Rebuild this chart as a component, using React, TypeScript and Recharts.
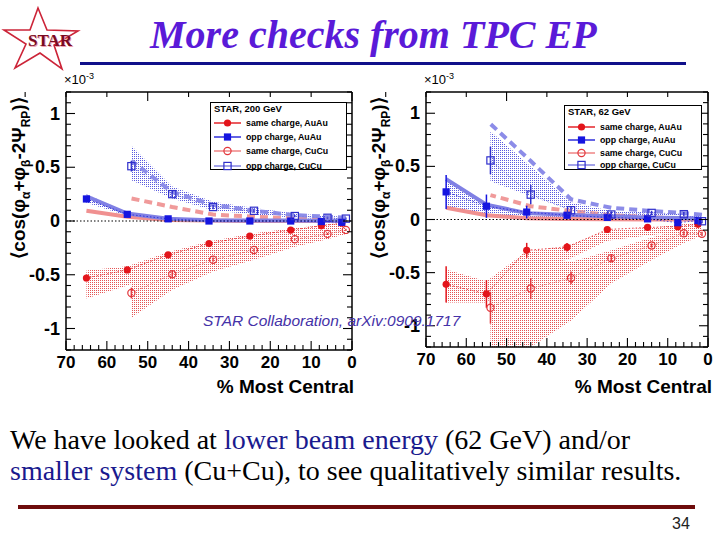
import React from "react";
import {
  ComposedChart,
  XAxis,
  YAxis,
  Area,
  Line,
  Scatter,
  ErrorBar,
  ReferenceLine,
  Legend,
} from "recharts";

const SANS = '"Liberation Sans", Arial, Helvetica, sans-serif';
const SERIF = '"Liberation Serif", "Times New Roman", serif';

// centrality bin centres (% most central); CuCu points sit slightly offset
const AU_X = [65, 55, 45, 35, 25, 15, 7.5, 2.5];
const CU_X = [54, 44, 34, 24, 14, 6, 1.5];

const X_LABELS = [70, 60, 50, 40, 30, 20, 10, 0];
const Y_LABELS = [-1, -0.5, 0, 0.5, 1];
const X_TICKS = Array.from({ length: 36 }, (_, i) => i * 2);
const Y_TICKS = Array.from({ length: 25 }, (_, i) => (i - 12) / 10);

const LEGEND_LABELS = ["same charge, AuAu", "opp charge, AuAu", "same charge, CuCu", "opp charge, CuCu"];

// ---- 200 GeV (left) ----
const L_SAME_AU = [-0.53, -0.455, -0.315, -0.21, -0.14, -0.085, -0.045, -0.02];
const L_SAME_AU_ERR = [0.03, 0.02, 0.015, 0.01, 0.01, 0.01, 0.01, 0.01];
const L_OPP_AU = [0.205, 0.062, 0.02, 0.0, 0.0, 0.0, -0.005, -0.012];
const L_OPP_AU_ERR = [0.03, 0.015, 0.01, 0.01, 0.01, 0.01, 0.01, 0.01];
const L_SAME_CU = [-0.67, -0.495, -0.36, -0.27, -0.17, -0.12, -0.083];
const L_SAME_CU_ERR = [0.05, 0.03, 0.02, 0.015, 0.01, 0.01, 0.01];
const L_OPP_CU = [0.51, 0.25, 0.13, 0.095, 0.046, 0.03, 0.022];
const L_OPP_CU_ERR = [0.05, 0.03, 0.02, 0.015, 0.01, 0.01, 0.01];

const L_SAME_AU_LO = [-0.72, -0.6, -0.45, -0.33, -0.23, -0.15, -0.1, -0.06];
const L_SAME_AU_HI = [-0.46, -0.42, -0.29, -0.19, -0.12, -0.07, -0.04, -0.01];
const L_OPP_AU_LO = [0.17, 0.05, 0.012, 0.0, 0.0, 0.0, 0.0, 0.0];
const L_OPP_AU_HI = [0.25, 0.08, 0.03, 0.012, 0.008, 0.006, 0.005, 0.005];
const L_SAME_CU_LO = [-0.9, -0.64, -0.47, -0.36, -0.24, -0.17, -0.12];
const L_SAME_CU_HI = [-0.44, -0.31, -0.22, -0.16, -0.1, -0.06, -0.03];
const L_OPP_CU_LO = [0.38, 0.21, 0.1, 0.06, 0.03, 0.015, 0.01];
const L_OPP_CU_HI = [0.7, 0.32, 0.18, 0.12, 0.07, 0.05, 0.04];

const L_SAME_AU_TH = [0.095, 0.04, 0.01, 0.005, 0.0, 0.0, 0.0, 0.0];
const L_OPP_AU_TH = [0.23, 0.07, 0.02, 0.008, 0.005, 0.004, 0.003, 0.003];
const L_SAME_CU_TH = [0.21, 0.13, 0.06, 0.04, 0.025, 0.015, 0.01];
const L_OPP_CU_TH = [0.56, 0.27, 0.15, 0.095, 0.055, 0.04, 0.03];

// ---- 62 GeV (right) ----
const R_SAME_AU = [-0.61, -0.7, -0.29, -0.26, -0.094, -0.075, -0.068, -0.045];
const R_SAME_AU_ERR = [0.17, 0.13, 0.07, 0.04, 0.015, 0.015, 0.015, 0.01];
const R_OPP_AU = [0.26, 0.125, 0.07, 0.04, 0.02, 0.006, -0.03, -0.01];
const R_OPP_AU_ERR = [0.16, 0.11, 0.06, 0.03, 0.015, 0.015, 0.015, 0.015];
const R_SAME_CU = [-0.83, -0.65, -0.55, -0.365, -0.245, -0.13, -0.135];
const R_SAME_CU_ERR = [0.15, 0.1, 0.06, 0.03, 0.02, 0.02, 0.02];
const R_OPP_CU = [0.556, 0.234, 0.087, 0.047, 0.062, 0.05, -0.016];
const R_OPP_CU_ERR = [0.13, 0.09, 0.04, 0.03, 0.02, 0.02, 0.02];

const R_SAME_AU_LO = [-0.78, -0.78, -0.45, -0.38, -0.2, -0.15, -0.12, -0.08];
const R_SAME_AU_HI = [-0.47, -0.58, -0.3, -0.25, -0.1, -0.08, -0.05, -0.03];
const R_OPP_AU_LO = [0.1, 0.05, 0.02, 0.01, 0.005, 0.0, 0.0, 0.0];
const R_OPP_AU_HI = [0.38, 0.14, 0.06, 0.045, 0.03, 0.02, 0.015, 0.01];
const R_SAME_CU_LO = [-1.25, -1.2, -0.95, -0.6, -0.38, -0.22, -0.15];
const R_SAME_CU_HI = [-0.58, -0.37, -0.4, -0.29, -0.17, -0.08, -0.05];
const R_OPP_CU_LO = [0.36, 0.22, 0.09, 0.02, 0.02, 0.0, -0.02];
const R_OPP_CU_HI = [0.83, 0.5, 0.16, 0.08, 0.07, 0.05, 0.03];

const R_SAME_AU_TH = [0.11, 0.04, 0.012, 0.005, 0.002, 0.0, 0.0, 0.0];
const R_OPP_AU_TH = [0.38, 0.14, 0.06, 0.045, 0.03, 0.02, 0.015, 0.01];
const R_SAME_CU_TH = [0.23, 0.125, 0.08, 0.04, 0.02, 0.01, 0.0];
const R_OPP_CU_TH = [0.9, 0.55, 0.19, 0.11, 0.08, 0.06, 0.045];

type Panel = {
  id: string;
  title: string;
  pts: { x: number; y: number; err: number }[][];
  rows: any[];
};

const pts = (xs: number[], ys: number[], errs: number[]) =>
  xs.map((x, i) => ({ x, y: ys[i], err: errs[i] }));

function buildRows(au: number[][], cu: number[][]) {
  // au/cu = [sameLo, sameHi, oppLo, oppHi, sameTh, oppTh]
  const rows: any[] = [];
  AU_X.forEach((x, i) =>
    rows.push({
      x,
      auSameBand: [au[0][i], au[1][i]],
      auOppBand: [au[2][i], au[3][i]],
      auSameTh: au[4][i],
      auOppTh: au[5][i],
    })
  );
  CU_X.forEach((x, i) =>
    rows.push({
      x,
      cuSameBand: [cu[0][i], cu[1][i]],
      cuOppBand: [cu[2][i], cu[3][i]],
      cuSameTh: cu[4][i],
      cuOppTh: cu[5][i],
    })
  );
  return rows.sort((a, b) => a.x - b.x);
}

const LEFT: Panel = {
  id: "p200",
  title: "STAR,  200 GeV",
  pts: [
    pts(AU_X, L_SAME_AU, L_SAME_AU_ERR),
    pts(AU_X, L_OPP_AU, L_OPP_AU_ERR),
    pts(CU_X, L_SAME_CU, L_SAME_CU_ERR),
    pts(CU_X, L_OPP_CU, L_OPP_CU_ERR),
  ],
  rows: buildRows(
    [L_SAME_AU_LO, L_SAME_AU_HI, L_OPP_AU_LO, L_OPP_AU_HI, L_SAME_AU_TH, L_OPP_AU_TH],
    [L_SAME_CU_LO, L_SAME_CU_HI, L_OPP_CU_LO, L_OPP_CU_HI, L_SAME_CU_TH, L_OPP_CU_TH]
  ),
};

const RIGHT: Panel = {
  id: "p62",
  title: "STAR,  62 GeV",
  pts: [
    pts(AU_X, R_SAME_AU, R_SAME_AU_ERR),
    pts(AU_X, R_OPP_AU, R_OPP_AU_ERR),
    pts(CU_X, R_SAME_CU, R_SAME_CU_ERR),
    pts(CU_X, R_OPP_CU, R_OPP_CU_ERR),
  ],
  rows: buildRows(
    [R_SAME_AU_LO, R_SAME_AU_HI, R_OPP_AU_LO, R_OPP_AU_HI, R_SAME_AU_TH, R_OPP_AU_TH],
    [R_SAME_CU_LO, R_SAME_CU_HI, R_OPP_CU_LO, R_OPP_CU_HI, R_SAME_CU_TH, R_OPP_CU_TH]
  ),
};

const SERIES = [
  { color: "#e3151b", line: "#e3151b", shape: "circle", filled: true },
  { color: "#1515e0", line: "#2020d8", shape: "square", filled: true },
  { color: "#e2373c", line: "#ee7c7c", shape: "circle", filled: false },
  { color: "#2f2fcc", line: "#7c7ce0", shape: "square", filled: false },
];

function marker(shape: string, filled: boolean, color: string, cx: number, cy: number) {
  const fill = filled ? color : "none";
  const sw = filled ? 0 : 1.2;
  if (shape === "circle") return <circle cx={cx} cy={cy} r={3.6} fill={fill} stroke={color} strokeWidth={sw} />;
  return <rect x={cx - 3.6} y={cy - 3.6} width={7.2} height={7.2} fill={fill} stroke={color} strokeWidth={sw} />;
}

const FRAME = { stroke: "#000", strokeWidth: 1.5 };
const isMajorY = (v: number) => Y_LABELS.some((m) => Math.abs(m - v) < 1e-6);
const tickText = { fontFamily: SANS, fontWeight: "bold" as const, fontSize: 17, fill: "#000" };

function BottomTick({ x, y, payload }: any) {
  const major = X_LABELS.includes(payload.value);
  return (
    <g>
      <line x1={x} x2={x} y1={y} y2={y - (major ? 9 : 5)} stroke="#000" strokeWidth={1.1} />
      {major && (
        <text x={x} y={y + 18} textAnchor="middle" {...tickText}>
          {payload.value}
        </text>
      )}
    </g>
  );
}

function TopTick({ x, y, payload }: any) {
  const major = X_LABELS.includes(payload.value);
  return <line x1={x} x2={x} y1={y} y2={y + (major ? 9 : 5)} stroke="#000" strokeWidth={1.1} />;
}

function LeftTick({ x, y, payload }: any) {
  const major = isMajorY(payload.value);
  return (
    <g>
      <line x1={x} x2={x + (major ? 9 : 5)} y1={y} y2={y} stroke="#000" strokeWidth={1.1} />
      {major && (
        <text x={x - 6} y={y + 6} textAnchor="end" {...tickText} fontSize={18}>
          {String(payload.value)}
        </text>
      )}
    </g>
  );
}

function RightTick({ x, y, payload }: any) {
  const major = isMajorY(payload.value);
  return <line x1={x} x2={x - (major ? 9 : 5)} y1={y} y2={y} stroke="#000" strokeWidth={1.1} />;
}

function LegendBox({ title, w, h, rowTop, rowGap }: { title: string; w: number; h: number; rowTop: number; rowGap: number }) {
  return (
    <div
      style={{
        position: "relative",
        width: w,
        height: h,
        boxSizing: "border-box",
        border: "1.5px solid #000",
        background: "#fff",
        fontFamily: SANS,
        fontWeight: "bold",
        color: "#000",
      }}
    >
      <div style={{ position: "absolute", left: 3, top: 0, fontSize: 9.5, lineHeight: "11px", whiteSpace: "nowrap" }}>{title}</div>
      {SERIES.map((s, i) => (
        <div
          key={i}
          style={{ position: "absolute", left: 0, top: rowTop + i * rowGap - 6, height: 12, display: "flex", alignItems: "center", whiteSpace: "nowrap" }}
        >
          <svg width={32} height={12} style={{ display: "block" }}>
            <line x1={3} x2={30} y1={6} y2={6} stroke={s.line} strokeWidth={1.4} />
            {marker(s.shape, s.filled, s.color, 16.5, 6)}
          </svg>
          <span style={{ fontSize: 8.8, marginLeft: 3 }}>{LEGEND_LABELS[i]}</span>
        </div>
      ))}
    </div>
  );
}

function Chart({ p, margin, box }: { p: Panel; margin: any; box: any }) {
  const ax = { xAxisId: "b", yAxisId: "l" };
  const red = `${p.id}-red`;
  const blue = `${p.id}-blue`;
  const noTick = { tickSize: 0, tickMargin: 0, tickLine: false, interval: 0 as const, axisLine: FRAME };
  return (
    <ComposedChart width={360} height={340} margin={margin} data={p.rows}>
      <defs>
        <pattern id={red} width={2} height={2} patternUnits="userSpaceOnUse">
          <rect width={1} height={1} fill="#e55454" />
        </pattern>
        <pattern id={blue} width={2} height={2} patternUnits="userSpaceOnUse">
          <rect width={1} height={1} fill="#5a5ade" />
        </pattern>
      </defs>
      <XAxis xAxisId="b" dataKey="x" type="number" domain={[0, 70]} reversed allowDataOverflow ticks={X_TICKS} height={1} {...noTick} tick={(t: any) => <BottomTick {...t} />} />
      <XAxis xAxisId="t" orientation="top" type="number" domain={[0, 70]} reversed allowDataOverflow ticks={X_TICKS} height={1} {...noTick} tick={(t: any) => <TopTick {...t} />} />
      <YAxis yAxisId="l" dataKey="y" type="number" domain={[-1.2, 1.2]} allowDataOverflow ticks={Y_TICKS} width={1} {...noTick} tick={(t: any) => <LeftTick {...t} />} />
      <YAxis yAxisId="r" orientation="right" type="number" domain={[-1.2, 1.2]} allowDataOverflow ticks={Y_TICKS} width={1} {...noTick} tick={(t: any) => <RightTick {...t} />} />

      <Area {...ax} dataKey="cuSameBand" stroke="none" fill={`url(#${red})`} fillOpacity={1} connectNulls dot={false} activeDot={false} isAnimationActive={false} />
      <Area {...ax} dataKey="auSameBand" stroke="none" fill={`url(#${red})`} fillOpacity={1} connectNulls dot={false} activeDot={false} isAnimationActive={false} />
      <Area {...ax} dataKey="cuOppBand" stroke="none" fill={`url(#${blue})`} fillOpacity={1} connectNulls dot={false} activeDot={false} isAnimationActive={false} />
      <Area {...ax} dataKey="auOppBand" stroke="none" fill={`url(#${blue})`} fillOpacity={1} connectNulls dot={false} activeDot={false} isAnimationActive={false} />

      <Line {...ax} dataKey="cuSameTh" stroke="#f09a9a" strokeWidth={4} strokeDasharray="8 5" connectNulls dot={false} activeDot={false} isAnimationActive={false} />
      <Line {...ax} dataKey="cuOppTh" stroke="#8c8ce8" strokeWidth={4} strokeDasharray="8 5" connectNulls dot={false} activeDot={false} isAnimationActive={false} />
      <Line {...ax} dataKey="auSameTh" stroke="#f09090" strokeWidth={4} connectNulls dot={false} activeDot={false} isAnimationActive={false} />
      <Line {...ax} dataKey="auOppTh" stroke="#8080e4" strokeWidth={4} connectNulls dot={false} activeDot={false} isAnimationActive={false} />

      <ReferenceLine {...ax} y={0} stroke="#000" strokeWidth={1.2} strokeDasharray="1.5 2" />

      {SERIES.map((s, i) => (
        <Scatter
          key={i}
          {...ax}
          data={p.pts[i]}
          dataKey="y"
          line={{ stroke: s.line, strokeWidth: 0.8, strokeDasharray: "1.5 2" }}
          lineType="joint"
          isAnimationActive={false}
          shape={(d: any) => marker(s.shape, s.filled, s.color, d.cx, d.cy)}
        >
          <ErrorBar dataKey="err" direction="y" width={0} stroke={s.color} strokeWidth={1.5} isAnimationActive={false} />
        </Scatter>
      ))}

      <Legend
        layout="vertical"
        align="center"
        verticalAlign="middle"
        wrapperStyle={{ left: box.left, top: box.top, width: box.w, height: box.h }}
        content={() => <LegendBox title={p.title} w={box.w} h={box.h} rowTop={box.rowTop} rowGap={box.rowGap} />}
      />
    </ComposedChart>
  );
}

function YTitle({ left }: { left: number }) {
  const sub = { fontSize: 12, dy: 5 };
  return (
    <svg width={40} height={220} style={{ position: "absolute", left, top: 70 }}>
      <text transform="translate(25,108) rotate(-90)" textAnchor="middle" fontFamily={SANS} fontWeight="bold" fontSize={19} fill="#000">
        ⟨cos(φ<tspan {...sub}>α</tspan>
        <tspan dy={-5}>+φ</tspan>
        <tspan {...sub}>β</tspan>
        <tspan dy={-5}>-2Ψ</tspan>
        <tspan {...sub}>RP</tspan>
        <tspan dy={-5}>)⟩</tspan>
      </text>
    </svg>
  );
}

function Exponent({ left }: { left: number }) {
  return (
    <div style={{ position: "absolute", left, top: 73, fontFamily: SANS, fontSize: 13, lineHeight: "14px", whiteSpace: "nowrap" }}>
      ×10<span style={{ fontSize: 9, position: "relative", top: -5 }}>-3</span>
    </div>
  );
}

function XTitle({ right }: { right: number }) {
  return (
    <div style={{ position: "absolute", right, top: 376, fontFamily: SANS, fontWeight: "bold", fontSize: 19, lineHeight: "22px", whiteSpace: "nowrap" }}>
      % Most Central
    </div>
  );
}

function StarLogo() {
  return (
    <svg width={90} height={75} style={{ position: "absolute", left: 0, top: 0 }}>
      <polygon points="38,8 47,30 78,31 54,45 62,69 40,53 15,68 26,44 4,30 30,30" fill="none" stroke="#cc2438" strokeWidth={1.6} />
      <text x={29} y={47} fontFamily={SERIF} fontWeight="bold" fontSize={17} fill="#f0a0b0">STAR</text>
      <text x={28} y={46} fontFamily={SERIF} fontWeight="bold" fontSize={17} fill="#7a0a22">STAR</text>
    </svg>
  );
}

export default function App() {
  return (
    <div style={{ position: "absolute", left: 0, top: 0, width: 720, height: 540, background: "#fff", overflow: "hidden", fontFamily: SERIF }}>
      <StarLogo />
      <div style={{ position: "absolute", left: 150, top: 15, fontSize: 40, lineHeight: 1, fontWeight: "bold", fontStyle: "italic", color: "#5a1ad8", whiteSpace: "nowrap" }}>
        More checks from TPC EP
      </div>
      <div style={{ position: "absolute", left: 80, top: 62, width: 606, height: 3, background: "#10108a" }} />

      <div style={{ position: "absolute", left: 0, top: 60 }}>
        <Chart p={LEFT} margin={{ top: 31, right: 7, bottom: 49, left: 65 }} box={{ left: 210, top: 42, w: 137, h: 68, rowTop: 20, rowGap: 14.2 }} />
      </div>
      <div style={{ position: "absolute", left: 360, top: 60 }}>
        <Chart p={RIGHT} margin={{ top: 31, right: 11, bottom: 52, left: 65 }} box={{ left: 204, top: 45, w: 138, h: 65, rowTop: 21, rowGap: 12.8 }} />
      </div>

      <YTitle left={0} />
      <YTitle left={360} />
      <Exponent left={64} />
      <Exponent left={424} />
      <XTitle right={366} />
      <XTitle right={8} />

      <div style={{ position: "absolute", left: 203, top: 312, fontFamily: SANS, fontStyle: "italic", fontSize: 15.5, color: "#4532a8", whiteSpace: "nowrap" }}>
        STAR Collaboration, arXiv:0909.1717
      </div>

      <div style={{ position: "absolute", left: 10, top: 424, fontSize: 28, lineHeight: "31px", whiteSpace: "nowrap", color: "#000" }}>
        We have looked at <span style={{ color: "#1a1a8e" }}>lower beam energy</span> (62 GeV) and/or
        <br />
        <span style={{ color: "#1a1a8e" }}>smaller system</span> (Cu+Cu), to see qualitatively similar results.
      </div>
      <div style={{ position: "absolute", left: 18, top: 505, width: 677, height: 4, background: "#6e0c0c" }} />
      <div style={{ position: "absolute", left: 672, top: 515, fontFamily: SANS, fontSize: 16, color: "#222" }}>34</div>
    </div>
  );
}
